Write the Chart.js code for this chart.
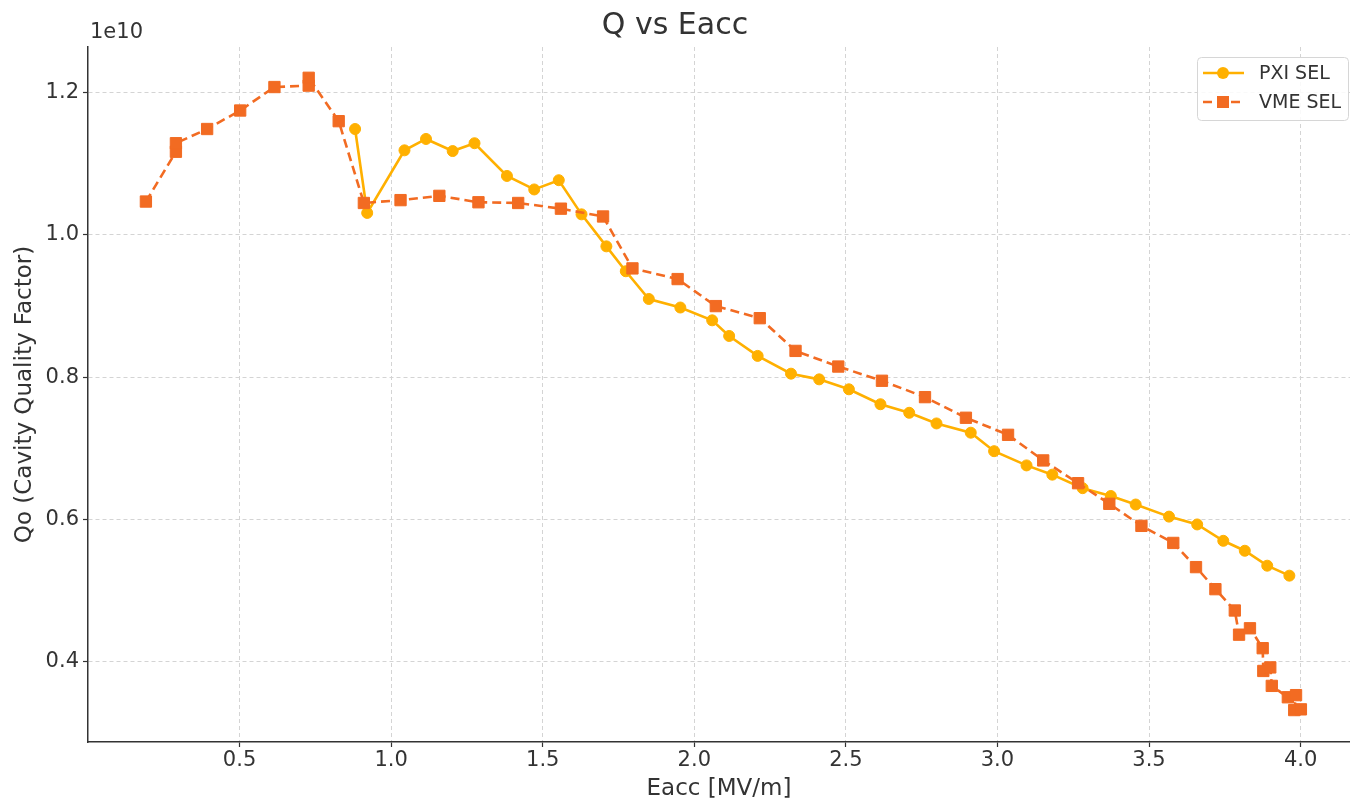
<!DOCTYPE html>
<html>
<head>
<meta charset="utf-8">
<title>Q vs Eacc</title>
<script src="https://cdn.jsdelivr.net/npm/chart.js@4.4.0/dist/chart.umd.min.js"></script>
<style>
    html, body { margin: 0; padding: 0; background: #fff; }
    #wrap { width: 1350px; height: 804px; }
</style>
</head>
<body>
<div id="wrap"><canvas id="qChart" width="1350" height="804"></canvas></div>
<script>
// Q values are in units of 1e10
const pxiEacc = [0.881, 0.921, 1.044, 1.115, 1.203, 1.275, 1.382, 1.472, 1.553, 1.628, 1.710, 1.774,
    1.850, 1.954, 2.059, 2.115, 2.209, 2.319, 2.412, 2.510, 2.614, 2.709, 2.799, 2.912, 2.989, 3.096,
    3.181, 3.281, 3.374, 3.456, 3.566, 3.659, 3.745, 3.816, 3.890, 3.963];
const pxiQ = [1.149, 1.031, 1.119, 1.135, 1.118, 1.129, 1.083, 1.064, 1.077, 1.029, 0.984, 0.949,
    0.910, 0.898, 0.880, 0.858, 0.830, 0.805, 0.797, 0.783, 0.762, 0.750, 0.735, 0.722, 0.696, 0.676,
    0.663, 0.644, 0.633, 0.621, 0.604, 0.593, 0.570, 0.556, 0.535, 0.521];

const vmeEacc = [0.191, 0.290, 0.290, 0.393, 0.502, 0.615, 0.728, 0.728, 0.827, 0.910, 1.031, 1.159,
    1.288, 1.419, 1.560, 1.699, 1.796, 1.945, 2.071, 2.216, 2.334, 2.475, 2.619, 2.761, 2.896, 3.035,
    3.151, 3.266, 3.369, 3.475, 3.580, 3.655, 3.719, 3.783, 3.797, 3.833, 3.875, 3.877, 3.900, 3.905,
    3.958, 3.985, 3.979, 4.001];
const vmeQ = [1.047, 1.117, 1.129, 1.149, 1.175, 1.208, 1.210, 1.221, 1.160, 1.045, 1.049, 1.055,
    1.046, 1.045, 1.037, 1.026, 0.953, 0.938, 0.900, 0.883, 0.837, 0.815, 0.795, 0.772, 0.743, 0.719,
    0.683, 0.651, 0.622, 0.591, 0.567, 0.533, 0.502, 0.472, 0.438, 0.447, 0.419, 0.387, 0.392, 0.366,
    0.350, 0.353, 0.332, 0.333];

const xTicks = [0.5, 1.0, 1.5, 2.0, 2.5, 3.0, 3.5, 4.0];
const yTicks = [0.4, 0.6, 0.8, 1.0, 1.2];
const qExponent = '1e10';

const PXI_COLOR = '#FFB000';
const VME_COLOR = '#F26B22';
const FONT = '"DejaVu Sans", "Noto Sans", sans-serif';
const TEXT = '#333333';

function toPoints(xs, ys) {
    return xs.map((x, i) => ({ x: x, y: ys[i] }));
}

// offset label + matplotlib style legend box
const extrasPlugin = {
    id: 'extras',
    afterDraw(chart) {
        const ctx = chart.ctx;
        const area = chart.chartArea;
        ctx.save();

        ctx.font = '21px ' + FONT;
        ctx.fillStyle = TEXT;
        ctx.textAlign = 'left';
        ctx.textBaseline = 'middle';
        ctx.fillText(qExponent, area.left + 2, 33);

        const bx = 1197, by = 57, bw = 151, bh = 63;
        ctx.beginPath();
        ctx.roundRect(bx + 0.5, by + 0.5, bw, bh, 4);
        ctx.fillStyle = 'rgba(255,255,255,0.85)';
        ctx.fill();
        ctx.strokeStyle = '#d6d6d6';
        ctx.lineWidth = 1;
        ctx.stroke();

        const rows = [
            { label: 'PXI SEL', color: PXI_COLOR, dash: [], marker: 'circle', y: by + 16 },
            { label: 'VME SEL', color: VME_COLOR, dash: [9, 5], marker: 'square', y: by + 45 }
        ];
        rows.forEach(r => {
            ctx.strokeStyle = r.color;
            ctx.fillStyle = r.color;
            ctx.lineWidth = 2.6;
            ctx.setLineDash(r.dash);
            ctx.beginPath();
            ctx.moveTo(bx + 6, r.y);
            ctx.lineTo(bx + 47, r.y);
            ctx.stroke();
            ctx.setLineDash([]);
            const cx = bx + 26;
            if (r.marker === 'circle') {
                ctx.beginPath();
                ctx.arc(cx, r.y, 6, 0, Math.PI * 2);
                ctx.fill();
            } else {
                ctx.fillRect(cx - 6, r.y - 6, 12, 12);
            }
            ctx.fillStyle = TEXT;
            ctx.font = '19px ' + FONT;
            ctx.textBaseline = 'middle';
            ctx.fillText(r.label, bx + 62, r.y + 1);
        });
        ctx.restore();
    }
};

document.addEventListener('DOMContentLoaded', function () {
    const ctx = document.getElementById('qChart').getContext('2d');
    new Chart(ctx, {
        type: 'line',
        data: {
            datasets: [{
                label: 'PXI SEL',
                data: toPoints(pxiEacc, pxiQ),
                borderColor: PXI_COLOR,
                backgroundColor: PXI_COLOR,
                borderWidth: 2.6,
                pointStyle: 'circle',
                pointRadius: 5.5,
                pointBorderWidth: 1,
                pointBorderColor: PXI_COLOR,
                tension: 0,
                order: 1
            }, {
                label: 'VME SEL',
                data: toPoints(vmeEacc, vmeQ),
                borderColor: VME_COLOR,
                backgroundColor: VME_COLOR,
                borderWidth: 2.6,
                borderDash: [9, 5],
                pointStyle: 'rect',
                pointRadius: 8,
                pointBorderWidth: 1,
                pointBorderColor: VME_COLOR,
                tension: 0,
                order: 0
            }]
        },
        options: {
            responsive: false,
            animation: false,
            layout: { padding: 0, autoPadding: false },
            plugins: {
                legend: { display: false },
                tooltip: { enabled: false },
                title: {
                    display: true,
                    text: 'Q vs Eacc',
                    color: TEXT,
                    font: { family: FONT, size: 30, weight: 'normal' },
                    padding: { top: 8, bottom: 3 }
                }
            },
            scales: {
                x: {
                    type: 'linear',
                    min: 0,
                    max: 4.163,
                    afterBuildTicks: s => { s.ticks = xTicks.map(v => ({ value: v })); },
                    afterFit: s => { s.height = 62; s.paddingLeft = 0; s.paddingRight = 0; },
                    grid: { color: '#d4d4d4', lineWidth: 1, tickLength: 5, tickColor: TEXT, tickWidth: 1.2 },
                    border: { display: true, color: TEXT, width: 1.5, dash: [4, 3] },
                    ticks: {
                        color: TEXT, padding: 1, maxRotation: 0, autoSkip: false,
                        font: { family: FONT, size: 21 },
                        callback: v => Number(v).toFixed(1)
                    },
                    title: {
                        display: true, text: 'Eacc [MV/m]', color: TEXT,
                        font: { family: FONT, size: 23 },
                        padding: { top: 0, bottom: 1 }
                    }
                },
                y: {
                    type: 'linear',
                    min: 0.2871,
                    max: 1.2643,
                    afterBuildTicks: s => { s.ticks = yTicks.map(v => ({ value: v })); },
                    afterFit: s => { s.width = 88; s.paddingTop = 0; s.paddingBottom = 0; },
                    grid: { color: '#d4d4d4', lineWidth: 1, tickLength: 5, tickColor: TEXT, tickWidth: 1.2 },
                    border: { display: true, color: TEXT, width: 1.5, dash: [4, 3] },
                    ticks: {
                        color: TEXT, padding: 4,
                        font: { family: FONT, size: 21 },
                        callback: v => Number(v).toFixed(1)
                    },
                    title: {
                        display: true, text: 'Qo (Cavity Quality Factor)', color: TEXT,
                        font: { family: FONT, size: 23 },
                        padding: { top: 11, bottom: 0 }
                    }
                }
            }
        },
        plugins: [extrasPlugin]
    });
});
</script>
</body>
</html>
